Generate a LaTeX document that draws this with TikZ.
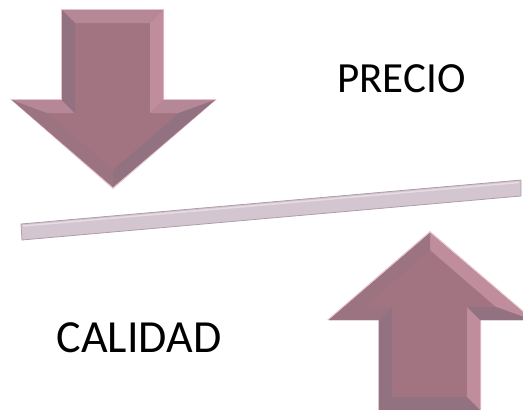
\documentclass[tikz,border=0pt]{standalone}
\usepackage{fontspec}
\setmainfont{Carlito}
\definecolor{amain}{HTML}{A27482}
\definecolor{alight}{HTML}{B68796}
\definecolor{apink}{HTML}{BF8D9C}
\definecolor{adark}{HTML}{927280}
\definecolor{amid}{HTML}{9B7381}
\definecolor{aedge}{HTML}{E6C4CE}
\definecolor{barfill}{HTML}{D3C6D0}
\definecolor{baredge}{HTML}{AE9EAA}
\definecolor{barlight}{HTML}{E6DCE4}
\tikzset{
  label text/.style={text=black, inner sep=0pt, anchor=base},
}
\begin{document}
\begin{tikzpicture}[x=1pt,y=-1pt]
\useasboundingbox (0,0) rectangle (523,410);
% ---------- down arrow ----------
\fill[aedge] (61,9) -- (164,9) -- (164,99) -- (217,99) -- (113,189) -- (10,99) -- (61,99) -- cycle;
\fill[amain] (62,10) -- (163,10) -- (163,100) -- (215,100) -- (113,187) -- (12,100) -- (62,100) -- cycle;
\fill[alight] (62,10) -- (163,10) -- (150,23) -- (75,23) -- cycle;
\fill[apink] (163,10) -- (163,100) -- (150,113) -- (150,23) -- cycle;
\fill[alight] (163,100) -- (215,100) -- (179,113) -- (150,113) -- cycle;
\fill[adark] (215,100) -- (113,187) -- (113,170) -- (179,113) -- cycle;
\fill[amid] (113,187) -- (12,100) -- (47,113) -- (113,170) -- cycle;
\fill[alight] (12,100) -- (62,100) -- (75,113) -- (47,113) -- cycle;
\fill[adark] (62,100) -- (62,10) -- (75,23) -- (75,113) -- cycle;
% ---------- up arrow ----------
\fill[aedge] (430,231) -- (534,320) -- (481,320) -- (481,411) -- (378,411) -- (378,320) -- (327,320) -- cycle;
\fill[amain] (430,233) -- (532,320) -- (480,320) -- (480,410) -- (379,410) -- (379,320) -- (329,320) -- cycle;
\fill[apink] (430,233) -- (532,320) -- (496,307) -- (430,250) -- cycle;
\fill[amid] (430,233) -- (430,250) -- (364,307) -- (329,320) -- cycle;
\fill[adark] (532,320) -- (480,320) -- (467,307) -- (496,307) -- cycle;
\fill[apink] (480,320) -- (480,410) -- (467,397) -- (467,307) -- cycle;
\fill[adark] (480,410) -- (379,410) -- (392,397) -- (467,397) -- cycle;
\fill[adark] (379,410) -- (379,320) -- (392,307) -- (392,397) -- cycle;
\fill[amid] (379,320) -- (329,320) -- (364,307) -- (392,307) -- cycle;
% ---------- bar ----------
\filldraw[fill=barfill, draw=baredge, line width=0.8pt] (21,224) -- (521,180) -- (521,196) -- (22,240) -- cycle;
\draw[barlight, line width=1.5pt] (23,226) -- (519,182.5);
% ---------- labels ----------
\node[label text, font=\fontsize{43}{50}\selectfont] (precio) at (401.5,92) {PRECIO};
\node[label text, font=\fontsize{46}{52}\selectfont] (calidad) at (139,352) {CALIDAD};
\end{tikzpicture}
\end{document}
